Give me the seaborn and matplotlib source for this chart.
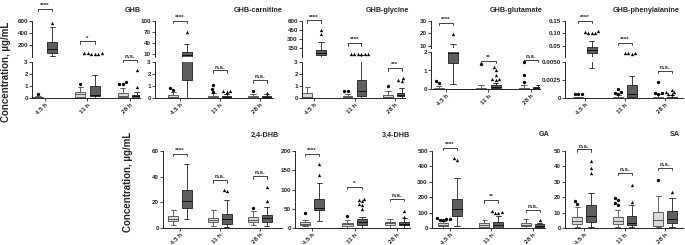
import matplotlib
matplotlib.use("Agg")
import matplotlib.pyplot as plt
import numpy as np
import seaborn as sns

sns.set_style("ticks")
plt.rcParams["font.family"] = ["Liberation Sans", "DejaVu Sans"]
plt.rcParams["font.weight"] = "bold"

times = ["4.5 h", "11 h", "28 h"]

# box stats (whislo, q1, median, q3, whishi)
# order: 4.5 h light, 4.5 h dark, 11 h light, 11 h dark, 28 h light, 28 h dark
ghb_box = [(0, 0, 0.05, 0.12, 0.2), (15, 63, 130, 245, 500),
           (0, 0.1, 0.3, 0.5, 0.9), (0, 0.15, 0.25, 1.0, 1.92),
           (0, 0.05, 0.2, 0.4, 0.85), (0, 0, 0.15, 0.25, 0.5)]
ghb_out = [[0.35], [570], [1.17], [55, 60, 62, 65, 58, 68],
           [1.3, 1.15, 1.2], [0.9, 2.3]]
ghb_sig = ["****", "*", "n.s."]
ghb_bar = [800, 262, 3.2]

carn_box = [(0, 0, 0.1, 0.25, 0.5), (0, 1.5, 8, 16, 38),
            (0, 0, 0.1, 0.2, 0.4), (0, 0, 0.05, 0.2, 0.35),
            (0, 0, 0.05, 0.2, 0.35), (0, 0, 0.05, 0.15, 0.3)]
carn_out = [[0.8, 0.7], [70], [1.1, 0.75, 0.5], [0.55, 0.5, 0.6], [0.55], [0.45]]
carn_sig = ["****", "n.s.", "n.s."]
carn_bar = [100, 2.3, 1.5]

gly_box = [(0, 0, 0.1, 0.4, 0.9), (5, 37, 76, 121, 245),
           (0, 0, 0.05, 0.15, 0.3), (0, 0.15, 0.6, 1.5, 35),
           (0, 0, 0.05, 0.25, 0.55), (0, 0.15, 0.25, 0.4, 0.85)]
gly_out = [[], [450, 380], [0.55, 0.6], [45, 48, 50, 52, 55, 47],
           [1.0], [1.5, 1.45, 1.7]]
gly_sig = ["****", "****", "***"]
gly_bar = [610, 235, 2.5]

glu_box = [(0, 0, 0.02, 0.05, 0.15), (0.27, 1.4, 1.95, 6, 11.3),
           (0, 0, 0.02, 0.07, 0.2), (0, 0.05, 0.1, 0.2, 0.35),
           (0, 0, 0.02, 0.07, 0.2), (0, 0, 0.03, 0.1, 0.2)]
glu_out = [[0.3, 0.43], [19.5], [1.35], [0.5, 0.52, 0.55, 0.75, 1.04, 1.2],
           [1.45, 0.76, 0.37], []]
glu_sig = ["****", "**", "n.s."]
glu_bar = [28.5, 1.52, 1.58]

phe_box = [(0, 0, 0, 0.0001, 0.0002), (0.0042, 0.020, 0.032, 0.046, 0.068),
           (0, 0, 0, 0.0002, 0.0004), (0, 0.0001, 0.0005, 0.0018, 0.0030),
           (0, 0, 0, 0.0002, 0.0005), (0, 0, 0, 0.0002, 0.0004)]
phe_out = [[0.0006, 0.0006, 0.0005], [0.10, 0.10, 0.105, 0.11, 0.10],
           [0.0008, 0.0006, 0.0012, 0.0007], [0.02, 0.021, 0.019, 0.022],
           [0.0022, 0.0007, 0.0007, 0.0006], [0.0011, 0.0009, 0.0008, 0.0006, 0.0005]]
phe_sig = ["****", "****", "n.s."]
phe_bar = [0.15, 0.063, 0.0038]

dhb24_box = [(2, 5.5, 7.3, 9.3, 13.8), (7.3, 15.9, 20.8, 29.9, 49.6),
             (1.5, 4.7, 6, 7.8, 14), (0.5, 2.9, 7, 11, 21.5),
             (2, 4.5, 6.5, 8.5, 13.5), (1.5, 5, 8, 10, 16)]
dhb24_out = [[], [], [], [28.8, 30], [15.9], [20.8, 31.9]]
dhb24_sig = ["****", "n.s.", "n.s."]
dhb24_bar = [58, 37.2, 40.5]

dhb34_box = [(4, 7, 11.5, 15.6, 21.9), (18.2, 46, 53, 76.6, 115.6),
             (1, 5, 10, 14, 20), (1, 8, 15.6, 24, 28),
             (1, 7, 12, 16, 22.6), (1, 7, 11, 16, 25)]
dhb34_out = [[40], [137, 167], [30.5], [48.7, 60, 63, 70, 73, 76.6], [], [28.6, 44.3]]
dhb34_sig = ["****", "*", "n.s."]
dhb34_bar = [193, 107, 76.6]

ga_box = [(2, 10, 20, 30, 45), (14, 77, 124, 191, 327),
          (1, 8, 20, 30, 54), (0, 2, 20, 39, 77),
          (2, 10, 20, 35, 60), (0, 5, 15, 25, 35)]
ga_out = [[50, 55, 60, 65, 58], [442, 455], [], [100, 105, 112, 95], [], [50]]
ga_sig = ["****", "**", "n.s."]
ga_bar = [520, 181, 119]

sa_box = [(0.5, 2.6, 4.3, 6.9, 13.8), (0.5, 3.6, 7.9, 15, 23),
          (0.5, 2.5, 4.5, 7, 11.6), (0.5, 2, 3, 7.5, 15),
          (0.5, 1.5, 5.2, 10.7, 20.8), (0.5, 3.5, 6, 11, 19.5)]
sa_out = [[15.9, 17.5], [35.5, 39, 43.4], [15, 16, 18, 19.4], [17.2, 28], [31.2], [23.4]]
sa_sig = ["n.s.", "n.s.", "n.s."]
sa_bar = [51, 36, 39]

W, H = 685, 245
LIGHT, DARK = "#d9d9d9", "#5e5e5e"


def rect(x0, x1, y0, y1):
    return [x0 / W, 1 - y1 / H, (x1 - x0) / W, (y1 - y0) / H]


def style(ax, bottom=True):
    sns.despine(ax=ax, bottom=not bottom)
    for s in ["left", "bottom"]:
        ax.spines[s].set_linewidth(0.7)
        ax.spines[s].set_color("#222222")
    ax.tick_params(axis="both", labelsize=4.5, length=2, width=0.6, pad=1)
    if not bottom:
        ax.tick_params(axis="x", bottom=False, labelbottom=False)


def draw_boxes(ax, stats, outs, lim):
    for i, s in enumerate(stats):
        grp, dark = divmod(i, 2)
        pos = grp + 1 + (0.17 if dark else -0.17)
        face = DARK if dark else LIGHT
        edge = "#1e1e1e" if dark else "#4a4a4a"
        st = dict(whislo=s[0], q1=s[1], med=s[2], q3=s[3], whishi=s[4], fliers=[])
        ax.bxp([st], positions=[pos], widths=0.24, capwidths=0.13, patch_artist=True,
               showfliers=False, manage_ticks=False,
               boxprops=dict(facecolor=face, edgecolor=edge, linewidth=0.6),
               medianprops=dict(color="#111111" if dark else "#555555", linewidth=0.7),
               whiskerprops=dict(color=edge, linewidth=0.6),
               capprops=dict(color=edge, linewidth=0.6))
        vals = [v for v in outs[i] if lim[0] <= v <= lim[1] * 1.02]
        if vals:
            sns.swarmplot(x=[pos] * len(vals), y=vals, native_scale=True, orient="x",
                          ax=ax, marker="^" if dark else "o", size=2.4, color="black",
                          linewidth=0, warn_thresh=1)


def bracket(ax, grp, y, text):
    x0, x1 = grp + 1 - 0.17, grp + 1 + 0.17
    disp = ax.transData.transform((0, y))[1]
    yd = ax.transData.inverted().transform((0, disp - 2.5))[1]
    ax.plot([x0, x0, x1, x1], [yd, y, y, yd], color="#222222", lw=0.6, clip_on=False)
    ax.annotate(text, (grp + 1, y), xytext=(0, 0.6), textcoords="offset points",
                ha="center", va="bottom", fontsize=4.5, annotation_clip=False)


def set_x(ax, xlim, labels=True):
    ax.set_xlim(*xlim)
    ax.set_xticks([1, 2, 3])
    if labels:
        ax.set_xticklabels(times, rotation=45, ha="right", rotation_mode="anchor", fontsize=4.5)
    ax.set_ylabel("")
    ax.set_xlabel("")


fig = plt.figure(figsize=(W / 100, H / 100), dpi=100)

# broken-axis panels (top row)
top = [
    dict(title="GHB", tx=133, box=ghb_box, out=ghb_out, sig=ghb_sig, bar=ghb_bar,
         x=(32, 140), xlim=(0.69, 3.24), y=(21, 57, 62, 98),
         up=(3, 600), upt=[200, 400, 600], lo=(0, 3), lot=[0, 1, 2, 3], fmt=None),
    dict(title="GHB-carnitine", tx=258, box=carn_box, out=carn_out, sig=carn_sig, bar=carn_bar,
         x=(155, 273), xlim=(0.375, 3.33), y=(21, 57, 62, 98),
         up=(3, 100), upt=[10, 40, 70, 100], lo=(0, 3), lot=[0, 1, 2, 3], fmt=None),
    dict(title="GHB-glycine", tx=387, box=gly_box, out=gly_out, sig=gly_sig, bar=gly_bar,
         x=(302, 405), xlim=(0.70, 3.25), y=(21, 57, 62, 98),
         up=(3, 600), upt=[150, 300, 450, 600], lo=(0, 3), lot=[0, 1, 2, 3], fmt=None),
    dict(title="GHB-glutamate", tx=516, box=glu_box, out=glu_out, sig=glu_sig, bar=glu_bar,
         x=(431, 540), xlim=(0.65, 3.21), y=(21, 48, 52, 89),
         up=(8, 30), upt=[10, 20, 30], lo=(0, 2), lot=[0, 1, 2], fmt=None),
    dict(title="GHB-phenylalanine", tx=646, box=phe_box, out=phe_out, sig=phe_sig, bar=phe_bar,
         x=(565, 683), xlim=(0.5, 3.45), y=(21, 57, 62, 98),
         up=(0.005, 0.15), upt=[0.05, 0.10, 0.15], lo=(0, 0.005), lot=[0, 0.0025, 0.005],
         fmt=(["0.05", "0.10", "0.15"], ["0", "0.0025", "0.0050"])),
]

for p in top:
    y0, y1, y2, y3 = p["y"]
    axu = fig.add_axes(rect(p["x"][0], p["x"][1], y0, y1))
    axl = fig.add_axes(rect(p["x"][0], p["x"][1], y2, y3))
    for ax, lim, ticks in [(axu, p["up"], p["upt"]), (axl, p["lo"], p["lot"])]:
        draw_boxes(ax, p["box"], p["out"], lim)
        ax.set_ylim(*lim)
        ax.set_yticks(ticks)
    if p["fmt"]:
        axu.set_yticklabels(p["fmt"][0])
        axl.set_yticklabels(p["fmt"][1])
    set_x(axu, p["xlim"], labels=False)
    set_x(axl, p["xlim"])
    style(axu, bottom=False)
    style(axl)
    for g in range(3):
        y = p["bar"][g]
        ax = axl if y <= p["lo"][1] * 1.3 else axu
        bracket(ax, g, y, p["sig"][g])
    fig.text(p["tx"] / W, 1 - 10 / H, p["title"], ha="center", va="center", fontsize=5.2)

bottom = [
    dict(title="2,4-DHB", tx=265, box=dhb24_box, out=dhb24_out, sig=dhb24_sig, bar=dhb24_bar,
         x=(163, 282), xlim=(0.575, 3.55), lim=(0, 60), ticks=[0, 20, 40, 60]),
    dict(title="3,4-DHB", tx=396, box=dhb34_box, out=dhb34_out, sig=dhb34_sig, bar=dhb34_bar,
         x=(295, 410), xlim=(0.6, 3.3), lim=(0, 200), ticks=[0, 50, 100, 150, 200]),
    dict(title="GA", tx=544, box=ga_box, out=ga_out, sig=ga_sig, bar=ga_bar,
         x=(432, 545), xlim=(0.56, 3.3), lim=(0, 500), ticks=[0, 100, 200, 300, 400, 500]),
    dict(title="SA", tx=675, box=sa_box, out=sa_out, sig=sa_sig, bar=sa_bar,
         x=(565, 683), xlim=(0.53, 3.44), lim=(0, 50), ticks=[0, 10, 20, 30, 40, 50]),
]

for p in bottom:
    ax = fig.add_axes(rect(p["x"][0], p["x"][1], 151, 228))
    draw_boxes(ax, p["box"], p["out"], p["lim"])
    ax.set_ylim(*p["lim"])
    ax.set_yticks(p["ticks"])
    set_x(ax, p["xlim"])
    style(ax)
    for g in range(3):
        bracket(ax, g, p["bar"][g], p["sig"][g])
    fig.text(p["tx"] / W, 1 - 135 / H, p["title"], ha="center", va="center", fontsize=5.2)

fig.text(6 / W, 1 - 72 / H, "Concentration, µg/mL", rotation=90, ha="center", va="center", fontsize=7)
fig.text(128 / W, 1 - 182 / H, "Concentration, µg/mL", rotation=90, ha="center", va="center", fontsize=7)

fig.savefig("out.png", dpi=100)
